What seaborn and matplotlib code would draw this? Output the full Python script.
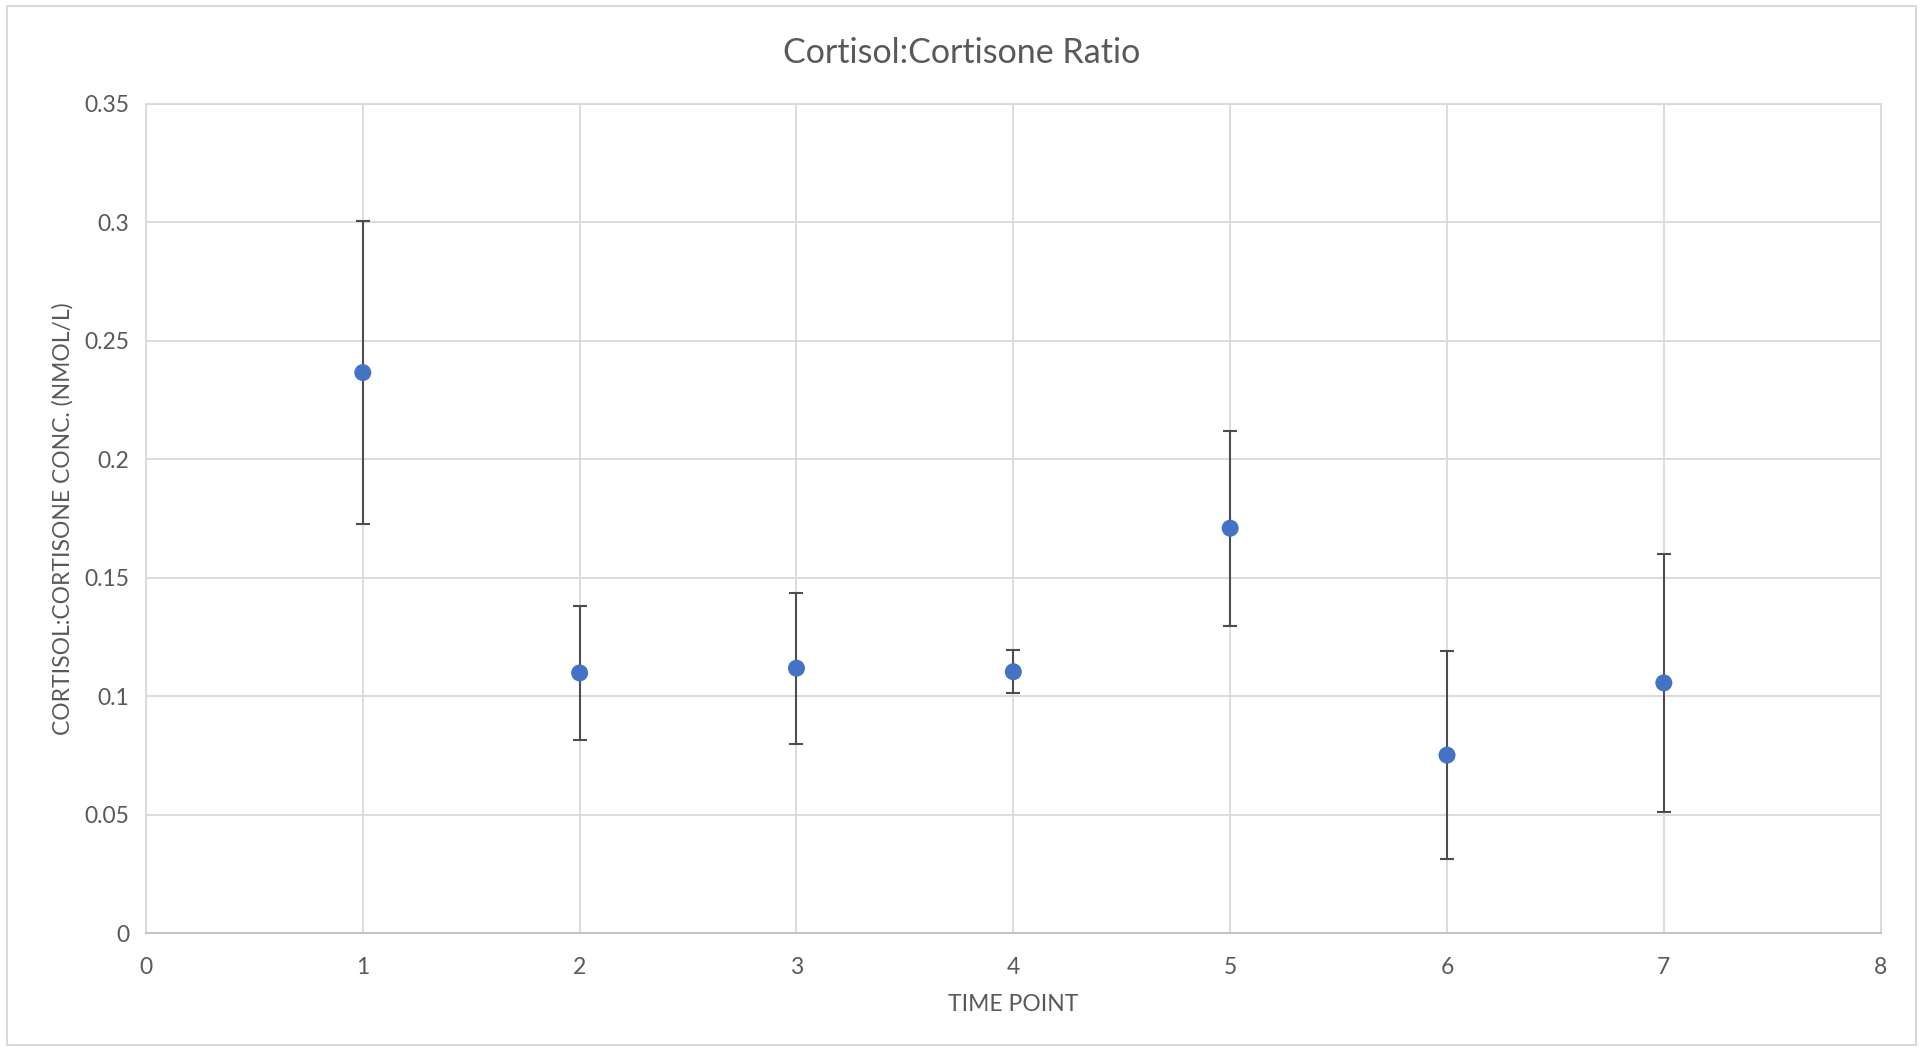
import numpy as np
import pandas as pd
import matplotlib
matplotlib.use("Agg")
import matplotlib.pyplot as plt
from matplotlib.patches import Rectangle
import seaborn as sns

# values
time_point = [1, 2, 3, 4, 5, 6, 7]
ratio = [0.2366, 0.1098, 0.1118, 0.1103, 0.1709, 0.0751, 0.1056]
ratio_err = [0.0640, 0.0282, 0.0318, 0.0090, 0.0412, 0.0438, 0.0543]

df = pd.DataFrame({"time": time_point, "ratio": ratio, "err": ratio_err})

sns.set_theme(style="whitegrid")
plt.rcParams['font.family'] = ['Lato', 'DejaVu Sans']

grey_txt = "#595959"
grid_col = "#d9d9d9"

fig = plt.figure(figsize=(19.23, 10.48), dpi=100)
ax = fig.add_axes([0.0759, 0.1097, 0.978 - 0.0759, 0.9008 - 0.1097])

# error bars first, then the points on top
ax.errorbar(df["time"], df["ratio"], yerr=df["err"], fmt="none",
            ecolor="#4d4d4d", elinewidth=1.5, capsize=5, capthick=1.5, zorder=2)
sns.scatterplot(data=df, x="time", y="ratio", ax=ax, color="#4472C4",
                s=150, edgecolor="none", zorder=3)

ax.set_xlim(0, 8)
ax.set_ylim(0, 0.35)
ax.set_xticks(range(0, 9))
ax.set_yticks([0, 0.05, 0.1, 0.15, 0.2, 0.25, 0.3, 0.35])
ax.set_yticklabels(["0", "0.05", "0.1", "0.15", "0.2", "0.25", "0.3", "0.35"])

ax.grid(True, color=grid_col, linewidth=1.3)
for s in ax.spines.values():
    s.set_color(grid_col)
    s.set_linewidth(1.3)
ax.spines["bottom"].set_color("#bfbfbf")
ax.tick_params(axis="both", length=0, labelsize=16.5, labelcolor=grey_txt)
ax.tick_params(axis="x", pad=17)
ax.tick_params(axis="y", pad=12)

ax.set_xlabel("TIME POINT", fontsize=16.5, color=grey_txt, labelpad=12)
ax.set_ylabel("CORTISOL:CORTISONE CONC. (NMOL/L)", fontsize=16.5, color=grey_txt, labelpad=8)

# title centred on the whole chart, not the plot area
fig.text(0.5, 1 - 53 / 1048, "Cortisol:Cortisone Ratio", fontsize=24.5,
         color=grey_txt, ha="center", va="center")

# thin frame round the whole chart like the spreadsheet chart area
fig.patches.append(Rectangle((7 / 1923, 3 / 1048), 1909 / 1923, 1039 / 1048,
                             transform=fig.transFigure, fill=False,
                             edgecolor=grid_col, linewidth=1.5))

fig.savefig("out.png", dpi=100)
